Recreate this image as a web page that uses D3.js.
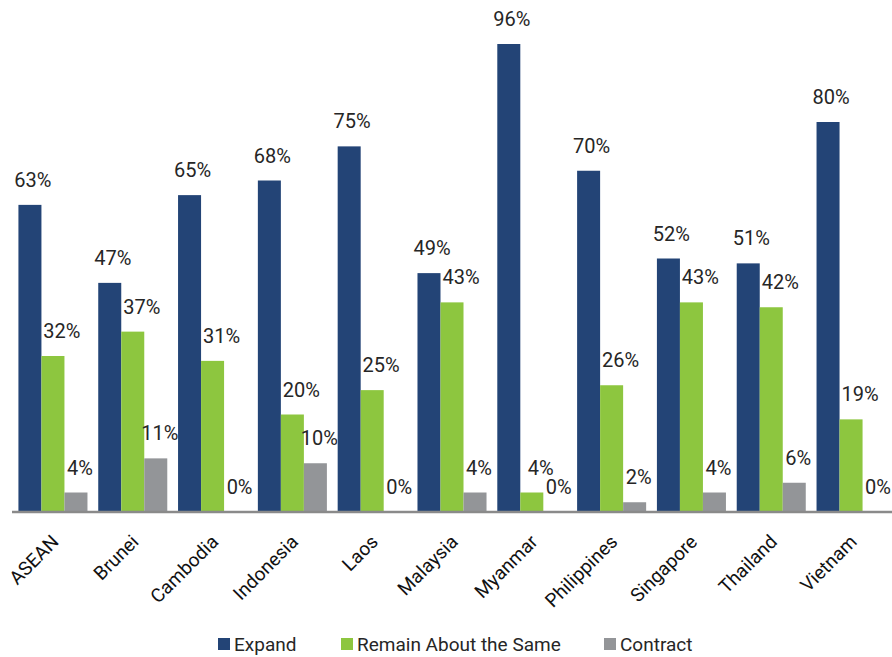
<!DOCTYPE html>
<html><head><meta charset="utf-8">
<script src="https://cdn.jsdelivr.net/npm/d3@7"></script>
<style>body{margin:0;background:#fff;} svg{display:block;font-family:Roboto, "Noto Sans", sans-serif;}</style>
</head><body>
<svg id="c" width="892" height="657"></svg>
<script>
const categories = ["ASEAN","Brunei","Cambodia","Indonesia","Laos","Malaysia","Myanmar","Philippines","Singapore","Thailand","Vietnam"];
const seriesNames = ["Expand","Remain About the Same","Contract"];
const expand = [63,47,65,68,75,49,96,70,52,51,80];
const remain = [32,37,31,20,25,43,4,26,43,42,19];
const contract = [4,11,0,10,0,4,0,2,4,6,0];
const colors = ["#234476","#8dc63f","#939598"];

const svg = d3.select("#c");
const values = [expand, remain, contract];
const labelShift = [3, 9, 4];
const baseY = 512;
const x0 = d3.scaleBand().domain(categories).range([13, 891]).paddingInner(0.135).paddingOuter(0.068);
const x1 = d3.scaleBand().domain(seriesNames).range([0, x0.bandwidth()]);
const y = d3.scaleLinear().domain([0, 96]).range([baseY, 44]);

const g = svg.append("g");
categories.forEach((c, i) => {
  const grp = g.append("g").attr("transform", `translate(${x0(c)},0)`);
  seriesNames.forEach((s, j) => {
    const v = values[j][i];
    grp.append("rect").attr("x", x1(s)).attr("y", y(v)).attr("width", x1.bandwidth()).attr("height", baseY - y(v)).attr("fill", colors[j]);
    grp.append("text").attr("x", x1(s) + x1.bandwidth()/2 + labelShift[j]).attr("y", y(v) - 18)
      .attr("text-anchor","middle").attr("font-size", 20).attr("fill","#262626").text(v + "%");
  });
});

// axis
const ax = svg.append("g").attr("transform", `translate(0,${baseY})`).call(d3.axisBottom(x0).tickSize(0).tickPadding(0));
ax.select(".domain").attr("stroke","#8a8a8a").attr("stroke-width",2.5).attr("d","M12,0H892");
ax.selectAll(".tick text").attr("font-size",19).attr("fill","#111").attr("font-family","Roboto, sans-serif")
  .attr("text-anchor","end").attr("dy",null).attr("y",null)
  .attr("transform","translate(7,31) rotate(-45)");

// legend
const legX = [218, 341, 604];
const leg = svg.append("g");
seriesNames.forEach((s, j) => {
  leg.append("rect").attr("x", legX[j]).attr("y", 638).attr("width", 12).attr("height", 12).attr("fill", colors[j]);
  leg.append("text").attr("x", legX[j] + 16).attr("y", 651).attr("font-size", 19).attr("fill","#262626").text(s);
});
</script>
</body></html>
